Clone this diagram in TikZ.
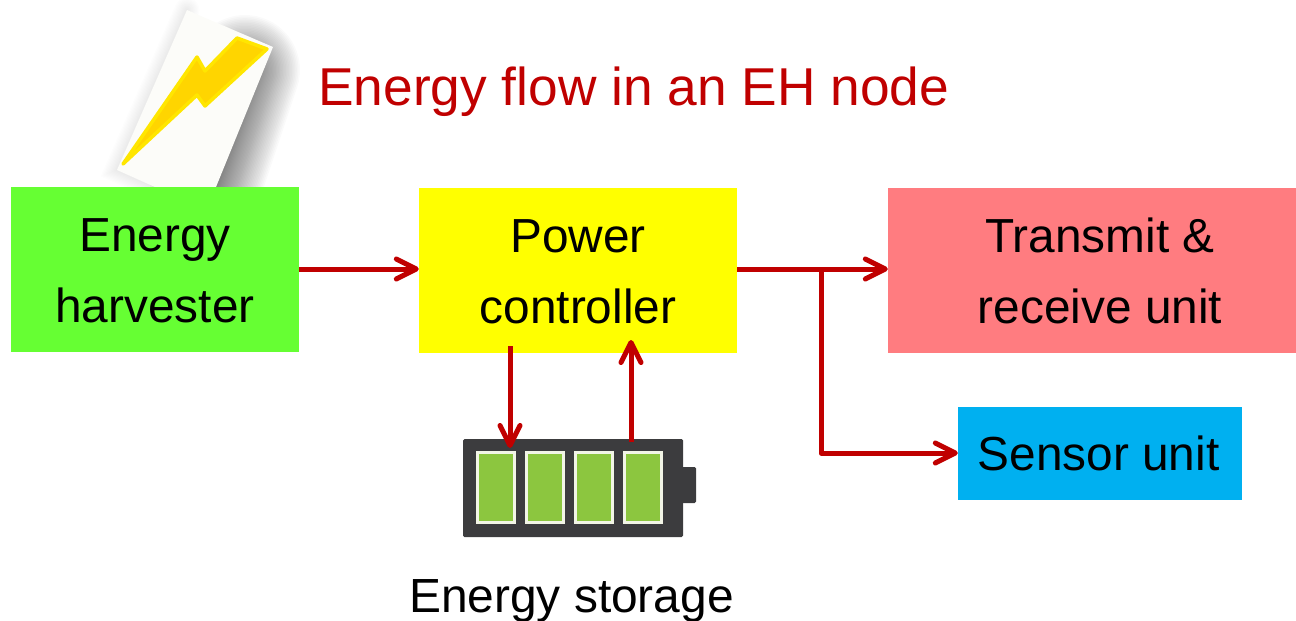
\documentclass[tikz,border=0pt]{standalone}
\usepackage{fontspec}
\setmainfont{Liberation Sans}
\usetikzlibrary{arrows.meta}
\definecolor{flow}{HTML}{C00000}
\definecolor{cellg}{HTML}{8CC63F}
\definecolor{batt}{HTML}{3C3C3E}
\definecolor{cellrim}{HTML}{F2F5E6}
\definecolor{boltin}{HTML}{FFD500}
\definecolor{boltout}{HTML}{FFE600}
\definecolor{cardc}{HTML}{FCFCF9}
\definecolor{harvc}{HTML}{66FF33}
\definecolor{ctrlc}{HTML}{FFFF00}
\definecolor{txc}{HTML}{FF7C80}
\definecolor{sensc}{HTML}{00B0F0}
\newcommand{\toppad}{\rule{0pt}{36.4pt}}
\tikzset{
  unitbox/.style={inner sep=0pt,align=center,font=\fontsize{47.8}{71}\selectfont,text=black},
  flowline/.style={draw=flow,line width=5pt,-{Straight Barb[length=20pt,width=20pt,line width=5pt,round]}},
  cellbox/.style={fill=cellg,draw=cellrim,line width=3pt,minimum width=37pt,minimum height=70pt,inner sep=0pt},
}
\begin{document}
\begin{tikzpicture}[x=1pt,y=-1pt]
\useasboundingbox (0,0) rectangle (1296,621);
% card shadow
\foreach \i in {1,...,45}{
  \pgfmathsetmacro{\hw}{110*pow(\i/45,1.3)}
  \draw[black,opacity=0.02,line width=\hw pt,line cap=round] (245,70) -- (205,190);
}
\foreach \i in {1,...,10}{
  \draw[black,opacity=0.006,line width=\i*2.5pt,line cap=round] (187,10) -- (117,170) -- (155,187);
}
% card
\fill[cardc] (187,10) -- (273,47) -- (216,187) -- (155,187) -- (117,170) -- cycle;
% lightning
\fill[fill=boltin,draw=boltout,line width=3.5pt,line join=round]
  (123,164) -- (197,57) -- (205,71) -- (237,38) -- (267,49) -- (205,106) -- (197,95) -- cycle;
% title
\node[text=flow,font=\fontsize{53.3}{60}\selectfont,anchor=base west,inner sep=0pt] (title) at (318,105) {Energy flow in an EH node};
% boxes
\node[unitbox,fill=harvc,minimum width=288pt,minimum height=165pt] (harv) at (155,269.5) {\toppad Energy\\harvester};
\node[unitbox,fill=ctrlc,minimum width=318pt,minimum height=165pt] (ctrl) at (578,270.5) {\toppad Power\\controller};
\node[unitbox,fill=txc,minimum width=408pt,minimum height=165pt] (tx) at (1092,270.5) {\hspace*{16pt}Transmit \&\\\hspace*{16pt}receive unit};
\node[unitbox,fill=sensc,minimum width=284pt,minimum height=93pt] (sens) at (1100,453.5) {\hspace*{-3pt}Sensor unit};
% battery
\node[fill=batt,rounded corners=1.5pt,minimum width=20pt,minimum height=36pt,inner sep=0pt] (term) at (686,485) {};
\node[fill=batt,rounded corners=1.5pt,minimum width=220pt,minimum height=98pt,inner sep=0pt] (body) at (573,488) {};
\node[cellbox] (c1) at (496,487.5) {};
\node[cellbox] (c2) at (545,487.5) {};
\node[cellbox] (c3) at (594,487.5) {};
\node[cellbox] (c4) at (643,487.5) {};
\node[font=\fontsize{47.9}{58}\selectfont,anchor=base,inner sep=0pt] (store) at (571.5,612) {Energy storage};
% connectors
\coordinate (ha) at (harv.east |- 0,269);
\coordinate (ca) at (ctrl.west |- 0,269);
\coordinate (cb) at (ctrl.east |- 0,269);
\coordinate (ta) at (tx.west |- 0,269);
\coordinate (sa) at (sens.west |- 0,453);
\coordinate (jn) at (821,269);
\coordinate (kn) at (821,453);
\coordinate (d1) at (510,346);
\coordinate (d2) at (510,448);
\coordinate (u1) at (631,442);
\coordinate (u2) at (631,340);
\draw[flowline] (ha) -- (ca);
\draw[flowline] (cb) -- (ta);
\draw[flowline,line join=round] (jn) -- (kn) -- (sa);
\draw[flowline] (d1) -- (d2);
\draw[flowline] (u1) -- (u2);
\end{tikzpicture}
\end{document}
